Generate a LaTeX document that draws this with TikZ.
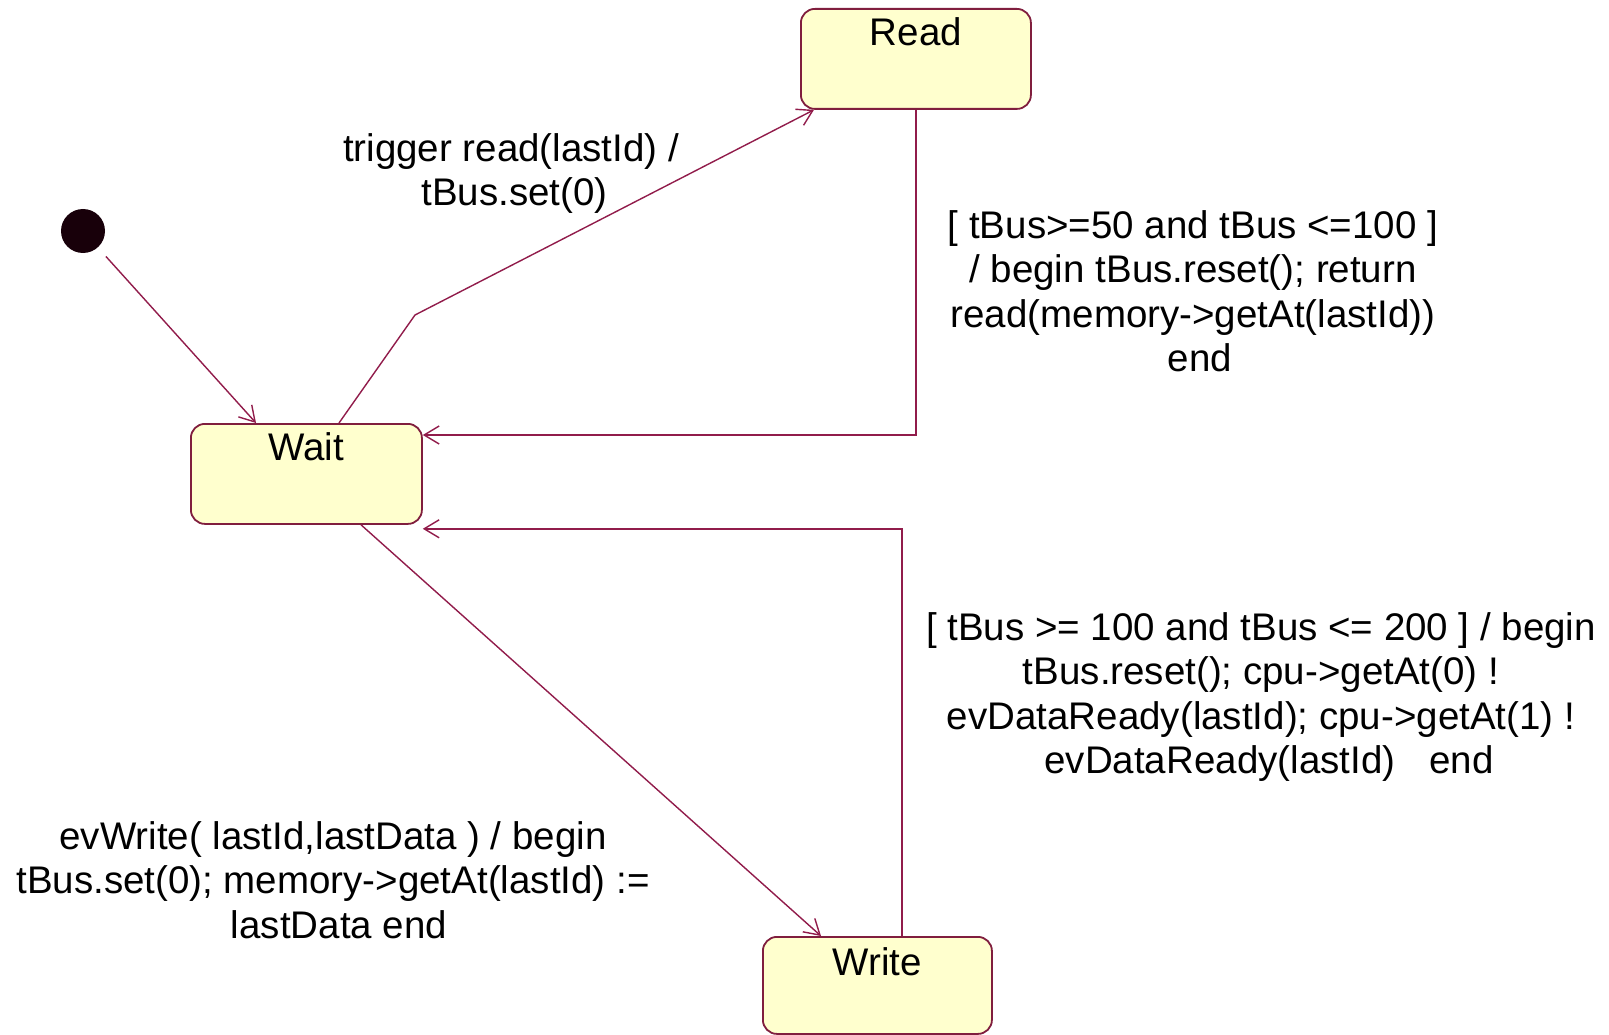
\documentclass[tikz,border=0pt]{standalone}
\usepackage{fontspec}
\setmainfont{Liberation Sans}
\usetikzlibrary{arrows.meta,calc}

\definecolor{edgecol}{RGB}{145,28,75}
\definecolor{statedraw}{RGB}{128,30,62}
\definecolor{statefill}{RGB}{255,255,206}
\definecolor{dotcol}{RGB}{24,0,10}

\begin{document}
\begin{tikzpicture}[x=1pt,y=-1pt,
  every node/.style={font=\fontsize{38.5}{44.5}\selectfont},
  state/.style={draw=statedraw, fill=statefill, line width=1.8pt,
    rounded corners=14pt, inner sep=0pt, anchor=north west,
    text height=37pt, text depth=63pt},
  trans/.style={draw=edgecol, line width=1.4pt,
    -{Straight Barb[length=15pt,width=18pt,line width=1.4pt]}},
  lbl/.style={align=center, anchor=north, inner sep=0pt}]

\useasboundingbox (0,0) rectangle (1609,1035);

% states
\node[state, minimum width=230pt] (read) at (800,8) {Read};
\node[state, minimum width=231pt] (wait) at (190,423) {Wait};
\node[state, minimum width=229pt, text height=39pt, text depth=58pt] (write) at (762,936) {Write};

% initial pseudo-state
\node[circle, fill=dotcol, minimum size=44pt, inner sep=0pt] (init) at (83,231) {};

% bend point of the read trigger
\coordinate (rbend) at (415,315);

% transitions
\draw[trans, shorten <=12pt] (init) -- ($(wait.north west)+(66,0)$);
\draw[trans] ($(wait.north west)+(149,0)$) -- (rbend) -- ($(read.south west)+(14,0)$);
\draw[trans] (read.south) |- ($(wait.north east)+(0,12)$);
\draw[trans] ($(write.north west)+(140,0)$) |- ($(wait.south east)+(0,4)$);
\draw[trans] ($(wait.south west)+(171,0)$) -- ($(write.north west)+(59,0)$);

% transition labels
\node[lbl] (lread) at (511,133) {trigger read(lastId) /\\\hspace*{7pt}tBus.set(0)};
\node[lbl] (lret) at (1193,210) {[ tBus>=50 and tBus <=100 ]\\/ begin tBus.reset(); return\\read(memory->getAt(lastId))\\\hspace*{14pt}end};
\node[lbl] (lback) at (1261,612) {[ tBus >= 100 and tBus <= 200 ] / begin\\tBus.reset(); cpu->getAt(0) !\\evDataReady(lastId); cpu->getAt(1) !\\\hspace*{16pt}evDataReady(lastId)\hspace{34pt}end};
\node[lbl] (lwrite) at (333,821) {evWrite( lastId,lastData ) / begin\\tBus.set(0); memory->getAt(lastId) :=\\\hspace*{12pt}lastData end};

\end{tikzpicture}
\end{document}
